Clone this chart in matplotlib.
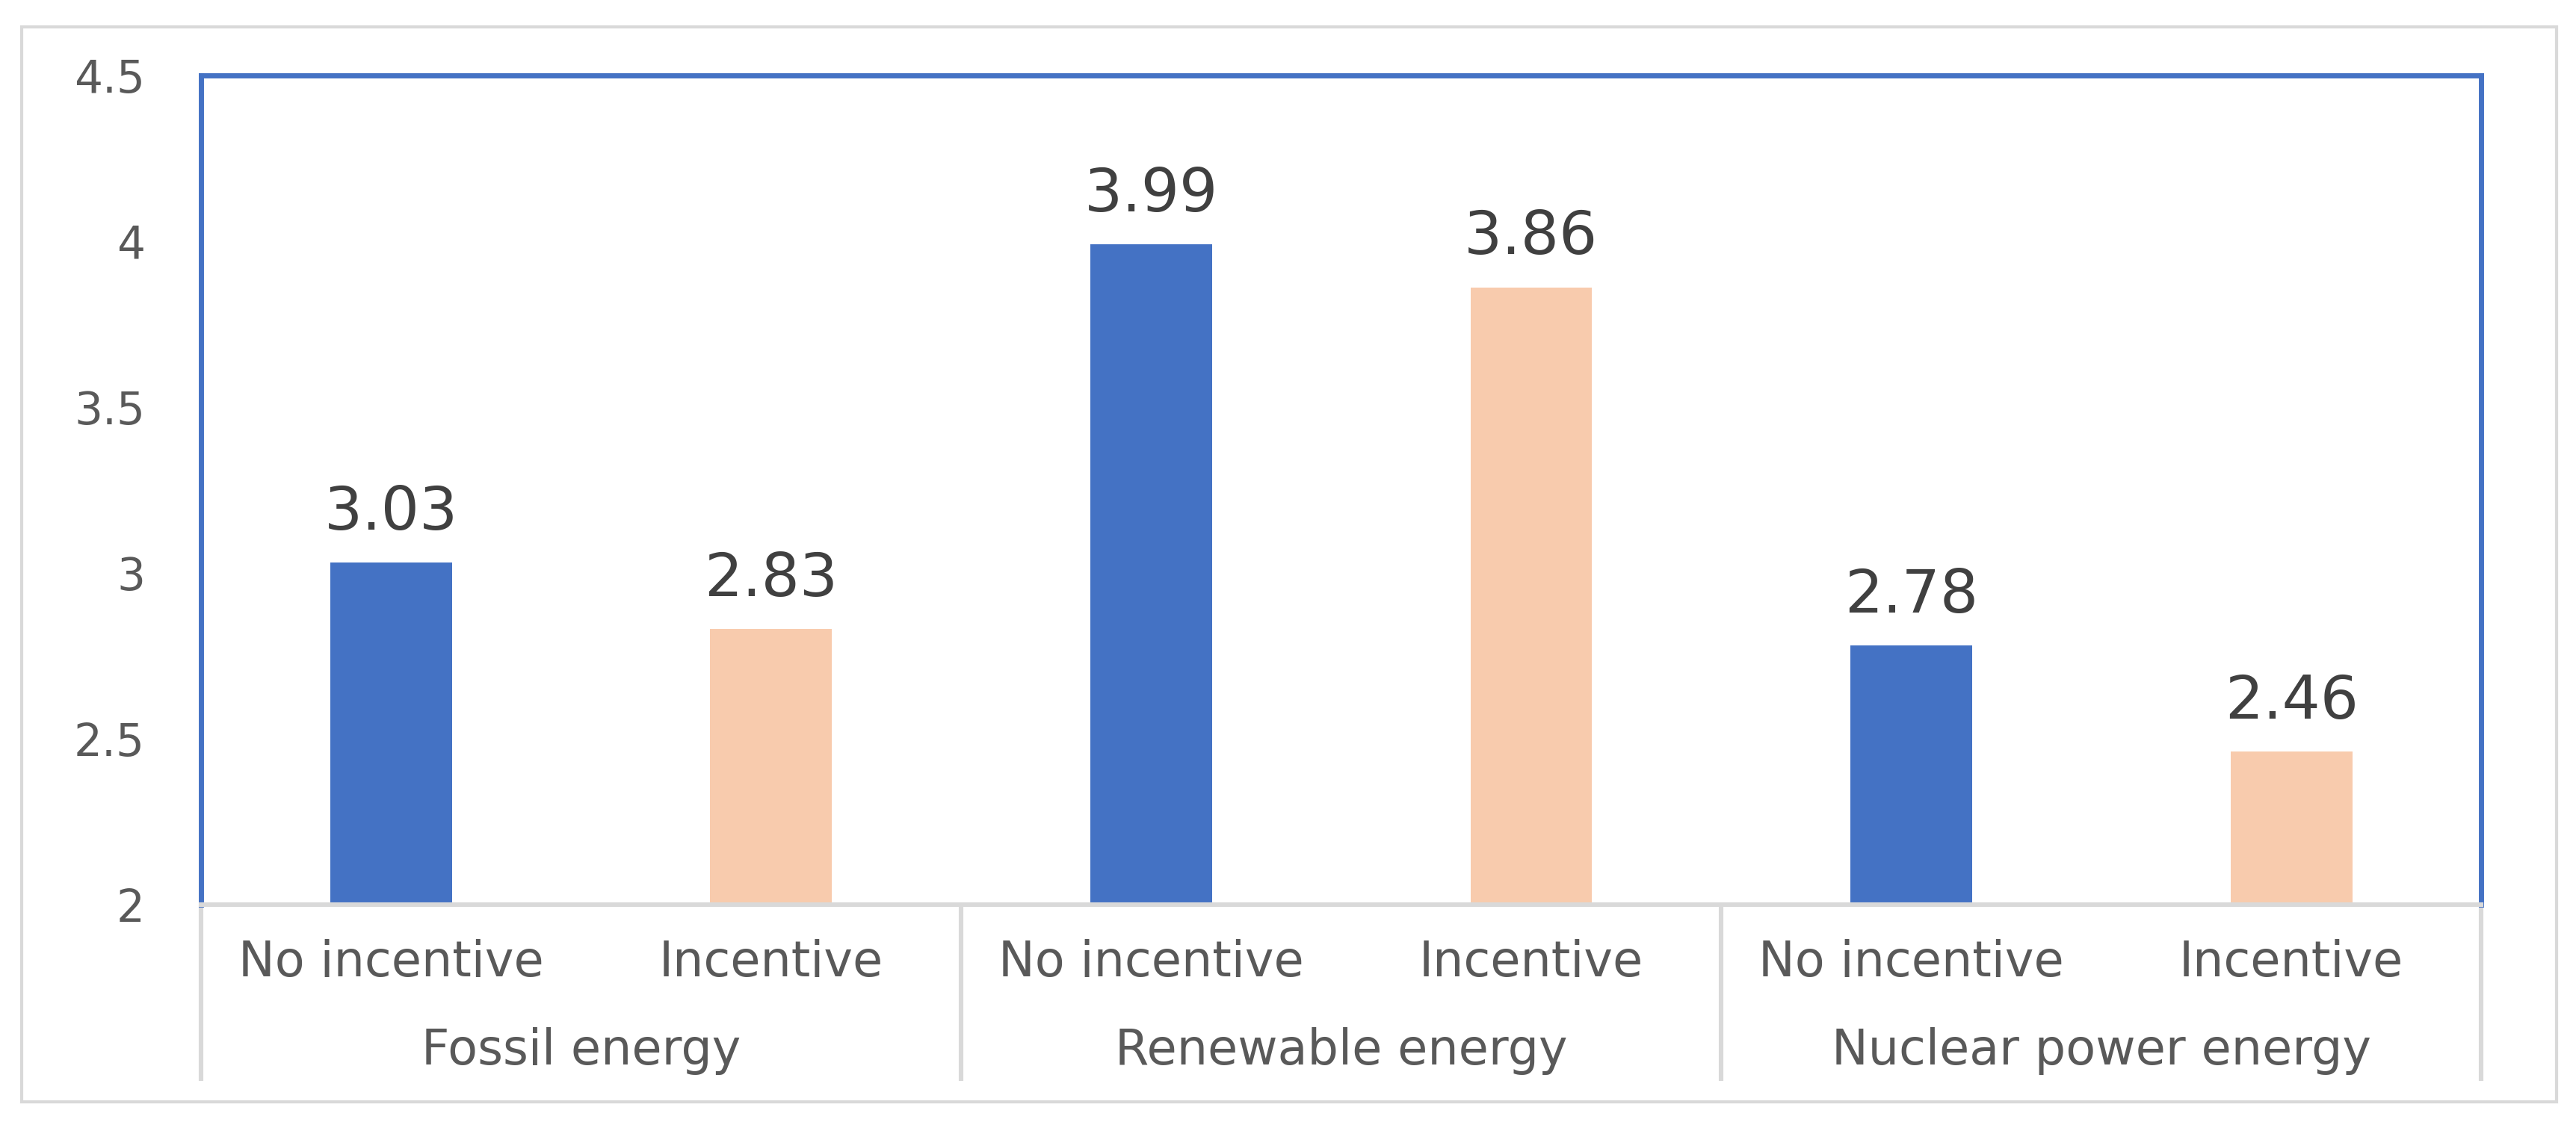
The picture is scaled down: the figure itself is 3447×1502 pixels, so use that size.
import matplotlib.pyplot as plt
from matplotlib.patches import Rectangle

groups = ["Fossil energy", "Renewable energy", "Nuclear power energy"]
subcats = ["No incentive", "Incentive"]
values = [3.03, 2.83, 3.99, 3.86, 2.78, 2.46]
bar_colors = ["#4472C4", "#F8CBAD"]
yticks = [2, 2.5, 3, 3.5, 4, 4.5]

plt.rcParams['font.family'] = ['DejaVu Sans']

fig = plt.figure(figsize=(17.24, 7.51), dpi=200)
ax = fig.add_axes([0.078, 0.194, 0.885, 0.739])

xs = list(range(len(values)))
cols = [bar_colors[i % 2] for i in xs]
ax.bar(xs, [v - 2 for v in values], bottom=2, width=0.32, color=cols, zorder=2)

for x, v in zip(xs, values):
    ax.annotate(f"{v:.2f}", (x, v), xytext=(0, 16), textcoords="offset points",
                ha="center", va="baseline", fontsize=29, color="#404040")

ax.set_xlim(-0.5, len(values) - 0.5)
ax.set_ylim(2, 4.5)
ax.set_yticks(yticks)
ax.set_yticklabels([f"{t:g}" for t in yticks])
ax.tick_params(axis="y", length=0, pad=27, labelsize=21.5, labelcolor="#595959")
ax.set_xticks([])

for side in ["left", "top", "right"]:
    ax.spines[side].set_color("#4472C4")
    ax.spines[side].set_linewidth(2.5)
ax.spines["bottom"].set_color("#D9D9D9")
ax.spines["bottom"].set_linewidth(2.2)
ax.spines["bottom"].set_zorder(3)

# multi-level category axis
trans = ax.get_xaxis_transform()
sep_bottom = (0.0366 - 0.194) / 0.739
for b in [-0.5, 1.5, 3.5, 5.5]:
    ax.plot([b, b], [0, sep_bottom], transform=trans, color="#D9D9D9",
            lw=2.2, clip_on=False, solid_capstyle="butt")

inner_y = (0.142 - 0.194) / 0.739
group_y = (0.063 - 0.194) / 0.739
for x in xs:
    ax.text(x, inner_y, subcats[x % 2], transform=trans, ha="center",
            va="center", fontsize=23.5, color="#595959")
for g, name in enumerate(groups):
    ax.text(2 * g + 0.5, group_y, name, transform=trans, ha="center",
            va="center", fontsize=23.5, color="#595959")

# outer chart border
fig.patches.append(Rectangle((0.0083, 0.018), 0.984, 0.958,
                             transform=fig.transFigure, fill=False,
                             edgecolor="#D9D9D9", lw=1.5))

plt.savefig("out.png", dpi=200, facecolor="white")
